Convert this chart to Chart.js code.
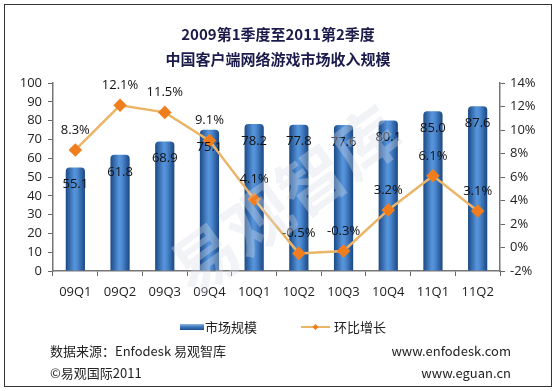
<!DOCTYPE html>
<html>
<head>
<meta charset="utf-8">
<script src="https://cdn.jsdelivr.net/npm/chart.js@4"></script>
<style>
  html, body { margin: 0; padding: 0; background: #fff; }
  #wrap { width: 555px; height: 391px; position: relative; }
</style>
</head>
<body>
<div id="wrap"><canvas id="chart" width="555" height="391"></canvas></div>
<script>
/* 中国客户端网络游戏市场收入规模 */
const categories = ['09Q1', '09Q2', '09Q3', '09Q4', '10Q1', '10Q2', '10Q3', '10Q4', '11Q1', '11Q2'];
const marketSize = [55.1, 61.8, 68.9, 75.1, 78.2, 77.8, 77.6, 80.1, 85.0, 87.6];
const qoqGrowth = [8.3, 12.1, 11.5, 9.1, 4.1, -0.5, -0.3, 3.2, 6.1, 3.1];
const titleLines = ['2009第1季度至2011第2季度', '中国客户端网络游戏市场收入规模'];
const seriesNames = ['市场规模', '环比增长'];

const FONT = '"Open Sans", "Noto Sans CJK SC", sans-serif';
const CJK = '"Noto Sans CJK SC", "Open Sans", sans-serif';
const lineColor = '#EBB567';
const markerColor = '#F07D1E';
const BAR_PCT = 0.43;

function barGradient(ctx, x, w) {
    const g = ctx.createLinearGradient(x - w / 2, 0, x + w / 2, 0);
    g.addColorStop(0, '#1B4A86');
    g.addColorStop(0.45, '#5795DC');
    g.addColorStop(0.6, '#4D8AD2');
    g.addColorStop(1, '#1A4782');
    return g;
}

// frame, titles, legend, footer, watermark
const decor = {
    id: 'decor',
    beforeDraw(chart) {
        const c = chart.ctx;
        c.save();
        c.fillStyle = '#fff';
        c.fillRect(0, 0, chart.width, chart.height);
        c.strokeStyle = '#333';
        c.lineWidth = 1;
        c.strokeRect(4.5, 4.5, 547, 382);
        c.fillStyle = '#1B1B4B';
        c.textAlign = 'center';
        c.textBaseline = 'middle';
        c.font = 'bold 15px ' + CJK;
        c.fillText(titleLines[0], 278, 34);
        c.fillText(titleLines[1], 278, 59);
        c.restore();
    },
    afterDatasetsDraw(chart) {
        const c = chart.ctx;
        c.save();
        c.textAlign = 'center';
        c.textBaseline = 'middle';
        c.font = '13px ' + FONT;
        c.fillStyle = '#111';
        chart.getDatasetMeta(1).data.forEach((el, i) => {
            c.fillText(marketSize[i].toFixed(1), el.x, el.y + 17);
        });
        chart.getDatasetMeta(0).data.forEach((el, i) => {
            c.fillText(qoqGrowth[i].toFixed(1) + '%', el.x, el.y - 20);
        });
        c.restore();
    },
    afterDraw(chart) {
        const c = chart.ctx;
        c.save();
        // watermark
        c.translate(285, 200);
        c.rotate(-Math.PI / 5);
        c.font = 'bold 66px ' + CJK;
        c.fillStyle = 'rgba(215,220,228,0.35)';
        c.textAlign = 'center';
        c.textBaseline = 'middle';
        c.fillText('易观智库', 0, 0);
        c.restore();

        c.save();
        // legend
        const ly = 327;
        const g = c.createLinearGradient(0, ly - 3, 0, ly + 3);
        g.addColorStop(0, '#8DB6E8');
        g.addColorStop(0.5, '#3A74BC');
        g.addColorStop(1, '#1D4F8E');
        c.fillStyle = g;
        c.fillRect(180, ly - 3, 24, 6);
        c.font = '13px ' + CJK;
        c.fillStyle = '#222';
        c.textBaseline = 'middle';
        c.fillText(seriesNames[0], 205, ly);
        c.strokeStyle = lineColor;
        c.lineWidth = 2;
        c.beginPath();
        c.moveTo(301, ly);
        c.lineTo(330, ly);
        c.stroke();
        c.fillStyle = markerColor;
        c.beginPath();
        c.moveTo(315.5, ly - 3); c.lineTo(318.5, ly); c.lineTo(315.5, ly + 3); c.lineTo(312.5, ly);
        c.closePath();
        c.fill();
        c.fillStyle = '#222';
        c.fillText(seriesNames[1], 334, ly);
        // footer
        c.font = '13px ' + CJK;
        c.fillText('数据来源：Enfodesk 易观智库', 50, 351);
        c.fillText('©易观国际2011', 50, 373);
        c.textAlign = 'right';
        c.fillText('www.enfodesk.com', 511, 351);
        c.fillText('www.eguan.cn', 511, 373);
        c.restore();
    }
};

new Chart(document.getElementById('chart'), {
    data: {
        labels: categories,
        datasets: [
            {
                type: 'line',
                label: seriesNames[1],
                data: qoqGrowth,
                yAxisID: 'y2',
                borderColor: lineColor,
                borderWidth: 2.5,
                pointStyle: 'rectRot',
                pointRadius: 5,
                pointBackgroundColor: markerColor,
                pointBorderColor: markerColor,
                tension: 0,
                order: 0
            },
            {
                type: 'bar',
                label: seriesNames[0],
                data: marketSize,
                yAxisID: 'y',
                backgroundColor: (ctx) => {
                    const xs = ctx.chart.scales.x;
                    if (!xs || !ctx.chart.chartArea) return '#3A74BC';
                    const x = xs.getPixelForValue(ctx.dataIndex);
                    const w = (xs.width / categories.length) * BAR_PCT;
                    return barGradient(ctx.chart.ctx, x, w);
                },
                barPercentage: BAR_PCT,
                categoryPercentage: 1,
                borderRadius: { topLeft: 4, topRight: 4 },
                borderSkipped: 'bottom',
                order: 1
            }
        ]
    },
    options: {
        responsive: false,
        animation: false,
        layout: { padding: { top: 83, left: 0, right: 0, bottom: 0 } },
        plugins: { legend: { display: false }, tooltip: { enabled: false }, title: { display: false } },
        scales: {
            x: {
                offset: true,
                grid: { display: true, drawOnChartArea: false, offset: true, tickLength: 5, color: '#666' },
                border: { color: '#777', width: 1.5 },
                ticks: { font: { family: FONT, size: 13 }, color: '#222', padding: 8 },
                afterFit: (s) => { s.height = 120; }
            },
            y: {
                position: 'left',
                min: 0, max: 100,
                ticks: { stepSize: 10, font: { family: FONT, size: 13 }, color: '#222', padding: 6 },
                grid: { drawOnChartArea: false, tickLength: 5, color: '#666' },
                border: { color: '#777', width: 1.5 },
                afterFit: (s) => { s.width = 53; }
            },
            y2: {
                position: 'right',
                min: -2, max: 14,
                ticks: { stepSize: 2, font: { family: FONT, size: 13 }, color: '#222', padding: 5,
                    callback: (v) => v + '%' },
                grid: { drawOnChartArea: false, tickLength: 5, color: '#666' },
                border: { color: '#777', width: 1.5 },
                afterFit: (s) => { s.width = 55; }
            }
        }
    },
    plugins: [decor]
});
</script>
</body>
</html>
